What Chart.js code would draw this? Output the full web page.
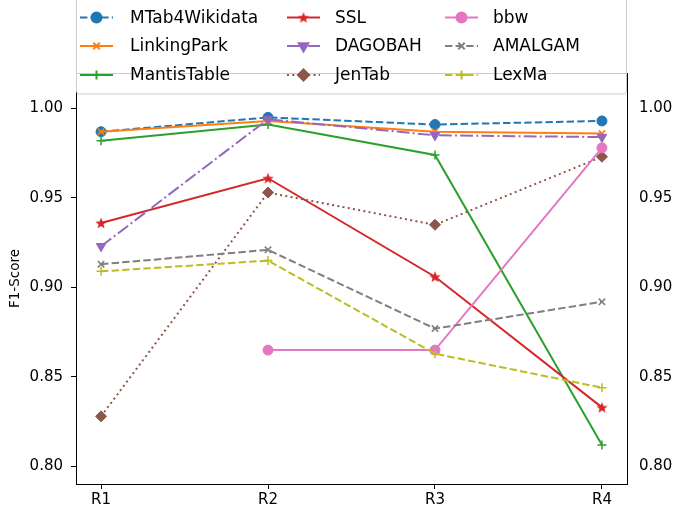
<!DOCTYPE html>
<html>
<head>
<meta charset="UTF-8">
<title>F1-Score per round</title>
<style>
  body { margin: 0; background: #fff; }
  canvas { display: block; }
</style>
</head>
<body>
<canvas id="chart" width="675" height="510"></canvas>
<script src="https://cdn.jsdelivr.net/npm/chart.js@4"></script>
<script>
// Dữ liệu biểu đồ
const rounds = ['R1', 'R2', 'R3', 'R4'];
const yTicks = [0.80, 0.85, 0.90, 0.95, 1.00];

const mtab4wikidata = [0.987, 0.995, 0.991, 0.993];
const linkingPark   = [0.987, 0.993, 0.987, 0.986];
const mantisTable   = [0.982, 0.991, 0.974, 0.812];
const ssl           = [0.936, 0.961, 0.906, 0.833];
const dagobah       = [0.923, 0.994, 0.985, 0.984];
const jenTab        = [0.828, 0.953, 0.935, 0.973];
const bbw           = [null, 0.865, 0.865, 0.978];
const amalgam       = [0.913, 0.921, 0.877, 0.892];
const lexMa         = [0.909, 0.915, 0.863, 0.844];

const FONT = 'DejaVu Sans';

// Ngôi sao đặc cho SSL
function starImage(color) {
  const c = document.createElement('canvas');
  c.width = 14; c.height = 14;
  const g = c.getContext('2d');
  g.fillStyle = color;
  g.beginPath();
  for (let i = 0; i < 10; i++) {
    const r = i % 2 === 0 ? 6 : 2.6;
    const a = -Math.PI / 2 + i * Math.PI / 5;
    const px = 7 + r * Math.cos(a), py = 7.5 + r * Math.sin(a);
    if (i === 0) g.moveTo(px, py); else g.lineTo(px, py);
  }
  g.closePath();
  g.fill();
  return c;
}

const series = [
  { label: 'MTab4Wikidata', values: mtab4wikidata, color: '#1f77b4', dash: [7.4, 3.2], style: 'circle', radius: 5, bw: 1 },
  { label: 'LinkingPark',   values: linkingPark,   color: '#ff7f0e', dash: [],         style: 'crossRot', radius: 4.5, bw: 1.6 },
  { label: 'MantisTable',   values: mantisTable,   color: '#2ca02c', dash: [],         style: 'cross', radius: 4.5, bw: 1.5 },
  { label: 'SSL',           values: ssl,           color: '#d62728', dash: [],         style: starImage('#d62728'), radius: 6, bw: 1 },
  { label: 'DAGOBAH',       values: dagobah,       color: '#9467bd', dash: [12.8, 3.2, 2, 3.2], style: 'triangle', rotation: 180, radius: 5.5, bw: 1 },
  { label: 'JenTab',        values: jenTab,        color: '#8c564b', dash: [2, 3.3],   style: 'rectRot', radius: 5.5, bw: 1 },
  { label: 'bbw',           values: bbw,           color: '#e377c2', dash: [],         style: 'circle', radius: 5, bw: 1 },
  { label: 'AMALGAM',       values: amalgam,       color: '#7f7f7f', dash: [7.4, 3.2], style: 'crossRot', radius: 4.5, bw: 1.6 },
  { label: 'LexMa',         values: lexMa,         color: '#bcbd22', dash: [7.4, 3.2], style: 'cross', radius: 4.5, bw: 1.5 }
];

const datasets = series.map((s, i) => ({
  label: s.label,
  data: s.values.map((v, k) => ({ x: k, y: v })),
  borderColor: s.color,
  backgroundColor: s.color,
  borderWidth: 2,
  borderDash: s.dash,
  pointStyle: s.style,
  pointRotation: s.rotation || 0,
  pointRadius: s.radius,
  pointBorderWidth: s.bw,
  pointBackgroundColor: s.color,
  pointBorderColor: s.color,
  tension: 0,
  spanGaps: false,
  order: series.length - i
}));

// Khung trục và chú thích kiểu matplotlib
const framePlugin = {
  id: 'frame',
  afterDraw(chart) {
    const ctx = chart.ctx;
    const a = chart.chartArea;
    ctx.save();
    ctx.strokeStyle = '#000';
    ctx.lineWidth = 1;
    ctx.beginPath();
    ctx.moveTo(a.left, Math.round(a.top) + 0.5);
    ctx.lineTo(a.right, Math.round(a.top) + 0.5);
    ctx.stroke();

    // hộp chú thích
    const bx = 76.5, by = -10, bw = 550, bh = 104;
    ctx.fillStyle = 'rgba(255,255,255,0.8)';
    ctx.strokeStyle = '#cccccc';
    ctx.beginPath();
    ctx.roundRect(bx, by, bw, bh, 3);
    ctx.fill();
    ctx.stroke();

    const colLine = [80, 287, 445];
    const colText = [130, 335, 493];
    const rowY = [17.5, 46, 75];
    ctx.font = '17px "' + FONT + '"';
    ctx.textBaseline = 'middle';
    series.forEach((s, i) => {
      const col = Math.floor(i / 3), row = i % 3;
      const x0 = colLine[col], y = rowY[row];
      ctx.strokeStyle = s.color;
      ctx.lineWidth = 2;
      ctx.setLineDash(s.dash);
      ctx.beginPath();
      ctx.moveTo(x0, y);
      ctx.lineTo(x0 + 33, y);
      ctx.stroke();
      ctx.setLineDash([]);
      ctx.fillStyle = s.color;
      ctx.strokeStyle = s.color;
      Chart.helpers.drawPoint(ctx, {
        pointStyle: s.style,
        rotation: s.rotation || 0,
        radius: s.radius,
        borderWidth: s.bw
      }, x0 + 16.5, y);
      ctx.fillStyle = '#000';
      ctx.fillText(s.label, colText[col], y + 1);
    });
    ctx.restore();
  }
};

const yMin = 0.7902, yMax = 1.0198;

new Chart(document.getElementById('chart'), {
  type: 'line',
  data: { datasets },
  plugins: [framePlugin],
  options: {
    responsive: false,
    devicePixelRatio: 1,
    animation: false,
    layout: { padding: { top: 73, left: 0, right: 0, bottom: 0 } },
    plugins: { legend: { display: false }, tooltip: { enabled: false } },
    scales: {
      x: {
        type: 'linear',
        position: 'bottom',
        min: -0.15,
        max: 3.15,
        afterBuildTicks: (axis) => { axis.ticks = rounds.map((_, i) => ({ value: i })); },
        afterFit: (axis) => { axis.height = 26; },
        ticks: {
          callback: (v) => rounds[v],
          font: { family: FONT, size: 15 },
          color: '#000',
          padding: 2,
          maxRotation: 0
        },
        grid: { display: true, drawOnChartArea: false, drawTicks: true, tickLength: 5, color: '#000' },
        border: { display: true, color: '#000' }
      },
      y: {
        type: 'linear',
        position: 'left',
        min: yMin,
        max: yMax,
        afterBuildTicks: (axis) => { axis.ticks = yTicks.map(v => ({ value: v })); },
        afterFit: (axis) => { axis.width = 76; },
        ticks: {
          callback: (v) => v.toFixed(2),
          font: { family: FONT, size: 15 },
          color: '#000',
          padding: 8
        },
        title: {
          display: true,
          text: 'F1-Score',
          font: { family: FONT, size: 13.5 },
          color: '#000',
          padding: { top: 7, bottom: 0 }
        },
        grid: { display: true, drawOnChartArea: false, drawTicks: true, tickLength: 5, color: '#000' },
        border: { display: true, color: '#000' }
      },
      y2: {
        type: 'linear',
        position: 'right',
        display: true,
        min: yMin,
        max: yMax,
        afterBuildTicks: (axis) => { axis.ticks = yTicks.map(v => ({ value: v })); },
        afterFit: (axis) => { axis.width = 48; },
        ticks: {
          callback: (v) => v.toFixed(2),
          font: { family: FONT, size: 15 },
          color: '#000',
          padding: 12
        },
        grid: { display: false, drawTicks: false },
        border: { display: true, color: '#000' }
      }
    }
  }
});
</script>
</body>
</html>
